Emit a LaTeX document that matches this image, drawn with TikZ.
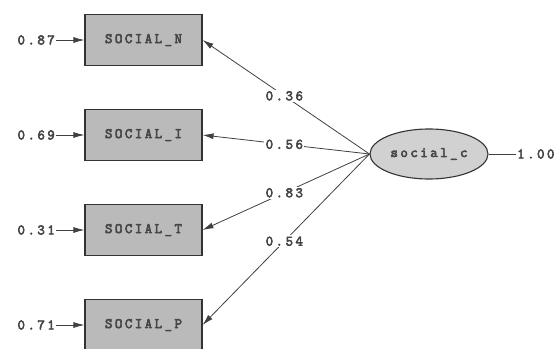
\documentclass[tikz,border=0pt]{standalone}
\usepackage{fontspec}
\newfontfamily\lisrel{Latin Modern Mono}[LetterSpace=17, FakeBold=4]
\usetikzlibrary{arrows.meta,shapes.geometric}
\begin{document}
\begin{tikzpicture}[x=1pt,y=-1pt,
  every node/.style={font=\lisrel\fontsize{14.5}{14.5}\selectfont, text=black!72},
  obs/.style={draw=black!80, line width=1.1pt, fill=black!27, minimum width=117pt, minimum height=51pt, inner sep=0pt},
  lat/.style={ellipse, draw=black!80, line width=1.1pt, fill=black!18, minimum width=118pt, minimum height=50pt, inner sep=0pt},
  conn/.style={draw=black!75, line width=0.8pt},
  arr/.style={conn, -{Latex[length=11pt,width=6pt]}},
  lbl/.style={fill=white, inner sep=1.5pt},
  err/.style={anchor=east, inner sep=1pt}]
\useasboundingbox (0,0) rectangle (559,348);
\node[obs] (N) at (143.5,40) {SOCIAL\_N};
\node[obs] (I) at (143.5,135) {SOCIAL\_I};
\node[obs] (T) at (143.5,230) {SOCIAL\_T};
\node[obs] (P) at (143.5,325) {SOCIAL\_P};
\node[lat] (C) at (429,154) {social\_c};
\node[err] (eN) at (56,40) {0.87};
\node[err] (eI) at (56,135) {0.69};
\node[err] (eT) at (56,230) {0.31};
\node[err] (eP) at (56,325) {0.71};
\draw[arr] (eN.east) -- (N.west);
\draw[arr] (eI.east) -- (I.west);
\draw[arr] (eT.east) -- (T.west);
\draw[arr] (eP.east) -- (P.west);
\draw[arr] (C.west) -- node[lbl, pos=0.51] {0.36} (N.east);
\draw[arr] (C.west) -- node[lbl, pos=0.51] {0.56} (I.east);
\draw[arr] (C.west) -- node[lbl, pos=0.51] {0.83} (T.east);
\draw[arr] (C.west) -- node[lbl, pos=0.51] {0.54} (P.east);
\node[anchor=west, inner sep=1pt] (one) at (516,154) {1.00};
\draw[conn] (C.east) -- (one.west);
\end{tikzpicture}
\end{document}
